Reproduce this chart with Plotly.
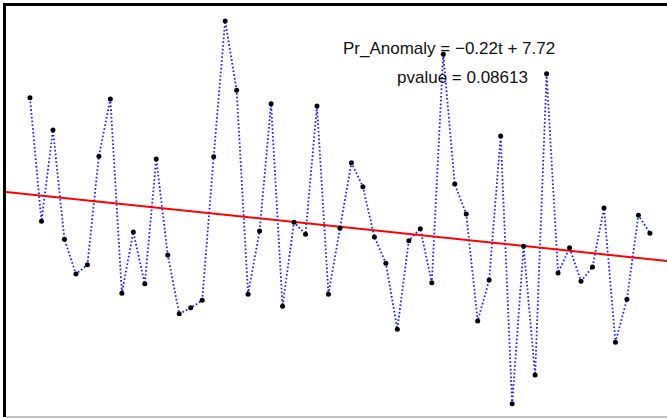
import plotly.graph_objects as go

# time index
t = list(range(1, 56))
# precipitation anomaly values
pr_anomaly = [25.2, 2.6, 19.3, -0.7, -7.1, -5.4, 14.5, 25.0, -10.6, 0.6,
              -8.9, 14.0, -3.6, -14.4, -13.3, -11.9, 14.4, 39.3, 26.6, -10.8,
              0.8, 24.1, -13.0, 2.4, 0.2, 23.7, -10.8, 1.3, 13.3, 8.9,
              -0.3, -5.1, -17.2, -1.0, 1.2, -8.7, 33.2, 9.4, 3.9, -15.7,
              -8.2, 18.2, -30.9, -2.0, -25.6, 29.6, -6.9, -2.3, -8.4, -5.8,
              5.0, -19.6, -11.7, 3.7, 0.4]
slope = -0.22
intercept = 7.72
pvalue = 0.08613

x_range = [-1.09, 56.49]
y_range = [-33.31, 42.04]

trend_x = x_range
trend_y = [slope * v + intercept for v in trend_x]

fig = go.Figure()
fig.add_trace(go.Scatter(x=t, y=pr_anomaly, mode="lines",
                         line=dict(color="#1a1aff", width=1.8, dash="1.6px,2.2px"),
                         showlegend=False, hoverinfo="skip"))
fig.add_trace(go.Scatter(x=trend_x, y=trend_y, mode="lines",
                         line=dict(color="#ff0000", width=2),
                         showlegend=False))
fig.add_trace(go.Scatter(x=t, y=pr_anomaly, mode="markers",
                         marker=dict(color="black", size=5),
                         showlegend=False))

fig.add_annotation(x=0.833, y=0.897, xref="paper", yref="paper",
                   text="Pr_Anomaly = \u22120.22t + 7.72", showarrow=False,
                   xanchor="right", yanchor="middle",
                   font=dict(family="Liberation Sans, Arial", size=17, color="#111111"))
fig.add_annotation(x=0.793, y=0.826, xref="paper", yref="paper",
                   text="pvalue = %.5f" % pvalue, showarrow=False,
                   xanchor="right", yanchor="middle",
                   font=dict(family="Liberation Sans, Arial", size=17, color="#111111"))

# bottom frame line (light)
fig.add_shape(type="line", xref="paper", yref="paper", x0=0, x1=1, y0=0, y1=0,
              line=dict(color="#aaaaaa", width=1.5))

fig.update_xaxes(range=x_range, showgrid=False, zeroline=False, showticklabels=False,
                 ticks="", side="top", showline=True, linecolor="black", linewidth=2.5)
fig.update_yaxes(range=y_range, showgrid=False, zeroline=False, showticklabels=False,
                 ticks="", showline=True, linecolor="black", linewidth=2.5)
fig.update_layout(width=667, height=418, margin=dict(l=6, r=0, t=6, b=1),
                  paper_bgcolor="white", plot_bgcolor="white")
fig.write_html("out.html", config={"displayModeBar": False},
               post_script="document.body.style.margin='0';document.body.style.padding='0';")
